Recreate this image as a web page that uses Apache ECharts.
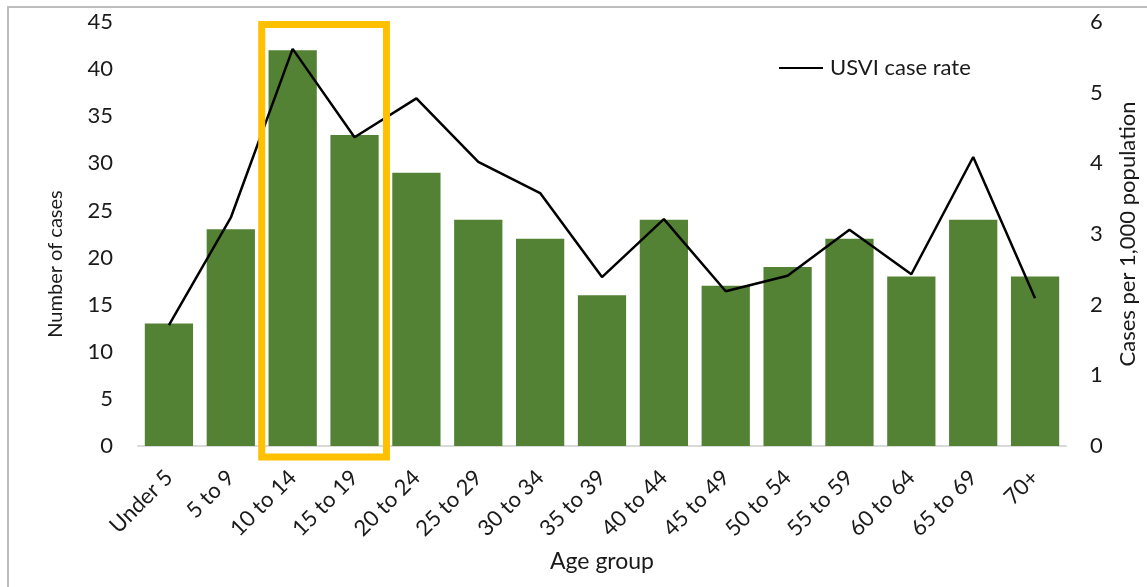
<!DOCTYPE html>
<html>
<head>
<meta charset="utf-8">
<script src="https://cdn.jsdelivr.net/npm/echarts@6/dist/echarts.min.js"></script>
<style>
  html, body { margin: 0; padding: 0; background: #ffffff; }
  #frame { position: absolute; left: 7px; top: 6px; width: 1300px; height: 800px; border: 2px solid #bdbdbd; box-sizing: border-box; }
  #chart { position: absolute; left: 0; top: 0; width: 1147px; height: 587px; }
</style>
</head>
<body>
<div id="frame"></div>
<div id="chart"></div>
<script>
// Age groups on the horizontal axis
const ageGroups = ['Under 5', '5 to 9', '10 to 14', '15 to 19', '20 to 24', '25 to 29', '30 to 34',
  '35 to 39', '40 to 44', '45 to 49', '50 to 54', '55 to 59', '60 to 64', '65 to 69', '70+'];
// Number of cases in each age group (left axis)
const caseCounts = [13, 23, 42, 33, 29, 24, 22, 16, 24, 17, 19, 22, 18, 24, 18];
// USVI case rate per 1,000 population (right axis)
const caseRates = [1.71, 3.23, 5.62, 4.37, 4.92, 4.02, 3.58, 2.39, 3.21, 2.19, 2.41, 3.06, 2.43, 4.09, 2.09];
// Age groups outlined with the highlight box
const highlighted = ['10 to 14', '15 to 19'];

const FONT = 'Lato, "Open Sans", sans-serif';
const FS = 22;
const TXT = '#1a1a1a';

const chart = echarts.init(document.getElementById('chart'), null, { renderer: 'canvas' });

chart.setOption({
  animation: false,
  textStyle: { fontFamily: FONT },
  grid: { left: 138, right: 74, top: 22, bottom: 141, containLabel: false },
  legend: {
    left: 774, top: 52,
    itemWidth: 44, itemHeight: 2, itemGap: 6,
    icon: 'rect',
    textStyle: { fontFamily: FONT, fontSize: FS, color: TXT, padding: [0, 0, 0, 2] },
    data: [{ name: 'USVI case rate', icon: 'rect', itemStyle: { color: '#000000' } }]
  },
  xAxis: {
    type: 'category',
    data: ageGroups,
    name: 'Age group',
    nameLocation: 'middle',
    nameGap: 104,
    nameTextStyle: { fontFamily: FONT, fontSize: 23, color: TXT },
    axisLine: { lineStyle: { color: '#d9d9d9', width: 2 } },
    axisTick: { show: false },
    axisLabel: { rotate: 45, margin: 28, interval: 0, fontFamily: FONT, fontSize: FS, color: TXT }
  },
  yAxis: [
    {
      type: 'value', min: 0, max: 45, interval: 5,
      name: 'Number of cases', nameLocation: 'middle', nameGap: 72, nameRotate: 90,
      nameTextStyle: { fontFamily: FONT, fontSize: 20, color: TXT, padding: [0, 60, 0, 0] },
      axisLine: { show: false }, axisTick: { show: false }, splitLine: { show: false },
      axisLabel: { margin: 25, fontFamily: FONT, fontSize: FS, color: TXT }
    },
    {
      type: 'value', min: 0, max: 6, interval: 1, position: 'right',
      name: 'Cases per 1,000 population', nameLocation: 'middle', nameGap: 51, nameRotate: 90,
      nameTextStyle: { fontFamily: FONT, fontSize: FS, color: TXT, verticalAlign: 'top' },
      axisLine: { show: false }, axisTick: { show: false }, splitLine: { show: false },
      axisLabel: { margin: 24, fontFamily: FONT, fontSize: FS, color: TXT }
    }
  ],
  series: [
    {
      name: 'Number of cases',
      type: 'bar',
      data: caseCounts,
      barCategoryGap: '22%',
      itemStyle: { color: '#548235' }
    },
    {
      name: 'USVI case rate',
      type: 'line',
      yAxisIndex: 1,
      data: caseRates,
      symbol: 'none',
      lineStyle: { color: '#000000', width: 2.5 },
      itemStyle: { color: '#000000' },
      z: 5
    }
  ]
});

// Yellow box around the highlighted age groups, placed from the axis scales
function drawHighlight() {
  const i0 = ageGroups.indexOf(highlighted[0]);
  const i1 = ageGroups.indexOf(highlighted[highlighted.length - 1]);
  const c0 = chart.convertToPixel({ xAxisIndex: 0 }, i0);
  const c1 = chart.convertToPixel({ xAxisIndex: 0 }, i1);
  const band = chart.convertToPixel({ xAxisIndex: 0 }, 1) - chart.convertToPixel({ xAxisIndex: 0 }, 0);
  const yTop = chart.convertToPixel({ yAxisIndex: 0 }, 45);
  const yBase = chart.convertToPixel({ yAxisIndex: 0 }, 0);
  const x0 = c0 - band / 2;
  const x1 = c1 + band / 2 + 1;
  chart.setOption({
    graphic: [{
      type: 'rect',
      z: 10,
      shape: { x: x0, y: yTop + 2.5, width: x1 - x0, height: (yBase + 11) - (yTop + 2.5) },
      style: { fill: 'none', stroke: '#ffc000', lineWidth: 7 }
    }]
  });
}
drawHighlight();
</script>
</body>
</html>
